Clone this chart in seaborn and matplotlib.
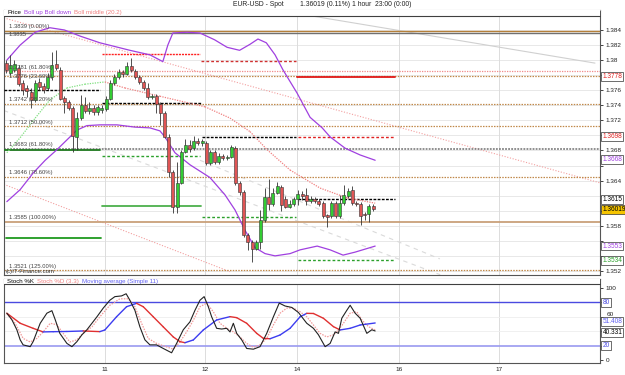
import numpy as np
import matplotlib
matplotlib.use("Agg")
import matplotlib.pyplot as plt
import matplotlib.transforms as mtransforms
import seaborn as sns

# ---------------- data ----------------
# hourly candles EUR-USD, index 0 = first visible candle
opens = [1.3796, 1.3783, 1.3787, 1.3790, 1.3770, 1.3763, 1.3758, 1.3747, 1.3771, 1.3766,
         1.3763, 1.3778, 1.3795, 1.3787, 1.3750, 1.3744, 1.3736, 1.3698, 1.3723, 1.3740,
         1.3732, 1.3736, 1.3731, 1.3734, 1.3735, 1.3748, 1.3770, 1.3778, 1.3784, 1.3782,
         1.3792, 1.3786, 1.3778, 1.3771, 1.3763, 1.3751, 1.3752, 1.3742, 1.3730, 1.3698,
         1.3651, 1.3605, 1.3637, 1.3678, 1.3687, 1.3683, 1.3693, 1.3690, 1.3690, 1.3663,
         1.3678, 1.3665, 1.3673, 1.3670, 1.3671, 1.3683, 1.3637, 1.3625, 1.3568, 1.3558,
         1.3549, 1.3558, 1.3588, 1.3618, 1.3609, 1.3624, 1.3631, 1.3616, 1.3605, 1.3609,
         1.3616, 1.3622, 1.3621, 1.3613, 1.3616, 1.3613, 1.3610, 1.3594, 1.3593, 1.3610,
         1.3593, 1.3610, 1.3620, 1.3627, 1.3610, 1.3609, 1.3596, 1.3596, 1.3606]
highs = [1.3800, 1.3807, 1.3800, 1.3794, 1.3774, 1.3767, 1.3763, 1.3774, 1.3776, 1.3770,
         1.3783, 1.3811, 1.3813, 1.3791, 1.3752, 1.3747, 1.3739, 1.3731, 1.3754, 1.3751,
         1.3744, 1.3740, 1.3740, 1.3740, 1.3752, 1.3774, 1.3782, 1.3788, 1.3787, 1.3798,
         1.3803, 1.3788, 1.3780, 1.3774, 1.3770, 1.3755, 1.3755, 1.3744, 1.3733, 1.3702,
         1.3654, 1.3665, 1.3681, 1.3695, 1.3694, 1.3699, 1.3697, 1.3695, 1.3693, 1.3681,
         1.3681, 1.3677, 1.3675, 1.3674, 1.3687, 1.3686, 1.3639, 1.3627, 1.3570, 1.3561,
         1.3561, 1.3601, 1.3630, 1.3642, 1.3630, 1.3638, 1.3634, 1.3620, 1.3614, 1.3618,
         1.3627, 1.3626, 1.3630, 1.3620, 1.3618, 1.3616, 1.3613, 1.3596, 1.3613, 1.3613,
         1.3621, 1.3634, 1.3630, 1.3633, 1.3613, 1.3612, 1.3598, 1.3609, 1.3609]
lows = [1.3783, 1.3780, 1.3784, 1.3766, 1.3754, 1.3751, 1.3736, 1.3744, 1.3760, 1.3756,
        1.3760, 1.3774, 1.3787, 1.3747, 1.3730, 1.3734, 1.3678, 1.3681, 1.3720, 1.3730,
        1.3728, 1.3727, 1.3727, 1.3730, 1.3732, 1.3747, 1.3767, 1.3775, 1.3778, 1.3780,
        1.3784, 1.3775, 1.3768, 1.3760, 1.3748, 1.3748, 1.3730, 1.3714, 1.3697, 1.3645,
        1.3597, 1.3597, 1.3635, 1.3677, 1.3678, 1.3681, 1.3687, 1.3686, 1.3661, 1.3661,
        1.3662, 1.3662, 1.3667, 1.3667, 1.3670, 1.3634, 1.3621, 1.3565, 1.3548, 1.3532,
        1.3548, 1.3549, 1.3585, 1.3601, 1.3606, 1.3622, 1.3600, 1.3604, 1.3604, 1.3606,
        1.3608, 1.3614, 1.3608, 1.3610, 1.3610, 1.3606, 1.3590, 1.3578, 1.3590, 1.3590,
        1.3590, 1.3608, 1.3617, 1.3608, 1.3606, 1.3581, 1.3588, 1.3585, 1.3600]
closes = [1.3787, 1.3794, 1.3795, 1.3768, 1.3760, 1.3759, 1.3747, 1.3770, 1.3764, 1.3760,
          1.3778, 1.3794, 1.3790, 1.3748, 1.3744, 1.3736, 1.3699, 1.3723, 1.3740, 1.3732,
          1.3736, 1.3731, 1.3738, 1.3736, 1.3748, 1.3770, 1.3778, 1.3784, 1.3782, 1.3792,
          1.3787, 1.3778, 1.3771, 1.3763, 1.3751, 1.3752, 1.3742, 1.3730, 1.3698, 1.3651,
          1.3605, 1.3637, 1.3678, 1.3687, 1.3682, 1.3693, 1.3690, 1.3693, 1.3663, 1.3678,
          1.3665, 1.3673, 1.3670, 1.3671, 1.3685, 1.3637, 1.3625, 1.3568, 1.3558, 1.3549,
          1.3558, 1.3588, 1.3618, 1.3609, 1.3624, 1.3633, 1.3608, 1.3605, 1.3609, 1.3616,
          1.3622, 1.3620, 1.3613, 1.3616, 1.3613, 1.3609, 1.3593, 1.3592, 1.3610, 1.3593,
          1.3610, 1.3621, 1.3626, 1.3610, 1.3609, 1.3593, 1.3594, 1.3606, 1.3602]

# Bollinger bands (20, 2)
up_idx = [0.2, 3.4, 7.0, 10.5, 14.0, 17.7, 22.5, 29.7, 34.5, 37.6, 38.8, 40.0, 43.4, 46.5,
          50.0, 53.0, 56.0, 58.5, 60.4, 62.4, 64.5, 66.4, 69.8, 72.9, 75.8, 77.7, 81.3, 84.9, 88.5]
up_val = [1.3800, 1.3820, 1.3837, 1.3843, 1.3840, 1.3832, 1.3823, 1.3813, 1.3807, 1.3798,
          1.3820, 1.3836, 1.3837, 1.3836, 1.3827, 1.3817, 1.3813, 1.3821, 1.3828, 1.3823,
          1.3807, 1.3787, 1.3756, 1.3724, 1.3710, 1.3698, 1.3683, 1.3674, 1.3667]
lo_idx = [0.2, 3.4, 6.5, 9.4, 12.2, 14.6, 17.0, 19.4, 22.5, 26.6, 30.9, 34.5, 36.9, 38.1, 40.5,
          44.1, 48.9, 52.5, 54.9, 57.3, 59.7, 62.1, 64.5, 68.1, 70.5, 74.6, 77.7, 80.8, 83.7, 88.5]
lo_val = [1.3612, 1.3628, 1.3650, 1.3667, 1.3681, 1.3694, 1.3707, 1.3713, 1.3714, 1.3714,
          1.3711, 1.3710, 1.3706, 1.3698, 1.3677, 1.3661, 1.3644, 1.3621, 1.3601, 1.3574,
          1.3551, 1.3543, 1.3540, 1.3543, 1.3548, 1.3553, 1.3548, 1.3541, 1.3545, 1.3553]
mid_idx = [0.2, 3.4, 7.0, 10.5, 14.6, 18.9, 23.7, 28.5, 36.9, 47.7, 53.7, 58.5, 62.6,
           68.1, 75.3, 81.8, 88.5]
mid_val = [1.3677, 1.3697, 1.3723, 1.3747, 1.3763, 1.3768, 1.3771, 1.3763, 1.3752, 1.3738,
           1.3723, 1.3705, 1.3681, 1.3654, 1.3630, 1.3617, 1.3610]

# full width levels (fibonacci retracement)
fib_prices = [1.3779, 1.3742, 1.3712, 1.3645, 1.3521]
fib_labels = ["1.3776 (23.60%)", "1.3742 (38.20%)", "1.3712 (50.00%)",
              "1.3646 (78.60%)", "1.3521 (125.00%)"]
top_price, top_label = 1.3839, "1.3839 (0.00%)"
top2_price, top2_label = 1.3836, "1.3835"
pink_price, pink_label = 1.3785, "1.3781 (61.80%)"
f618_price, f618_label = 1.3682, "1.3683 (61.80%)"
f100_price, f100_label = 1.3585, "1.3585 (100.00%)"

# short support / resistance segments: price, start index, end index
seg_price = [1.3760, 1.3681, 1.3564, 1.3808, 1.3743, 1.3673, 1.3606,
             1.3799, 1.3698, 1.3592, 1.3778, 1.3698, 1.3615, 1.3534]
seg_start = [-0.4, -0.4, 0.0, 23.0, 23.0, 23.0, 23.0, 46.7, 47.0, 47.0, 69.8, 70.0, 70.0, 70.0]
seg_end = [22.5, 22.5, 22.8, 46.5, 47.0, 46.5, 46.8, 69.5, 69.5, 69.5, 93.3, 93.3, 93.3, 93.3]
seg_color = ["black", "#1f7a1f", "#1f9a1f", "#ff2020", "black", "#2ca02c", "#4cb04c",
             "#d03030", "black", "#2ca02c", "#e01818", "#e02020", "black", "#2ca02c"]
seg_style = [(0, (2, 1)), "-", "-", (0, (1.5, 0.7)), (0, (2, 1)), (0, (2, 1.5)), "-",
             (0, (2, 1.5)), (0, (2, 1)), (0, (2, 1.5)), "-", (0, (2, 1.5)), (0, (2, 1)), (0, (2, 1.5))]

# trend lines: (start index, start price, end index, end price)
trend_pink = [(-0.5, 1.3856, 142.4, 1.3637), (-0.5, 1.3635, 53.7, 1.3519)]
trend_gray = [(72.9, 1.3859, 141.2, 1.3796)]
trend_gray_dash = [(-0.5, 1.3733, 104.1, 1.3515), (46.5, 1.3667, 104.0, 1.3536)]

# price tags on right axis
tag_price = [1.3778, 1.3698, 1.3668, 1.3615, 1.36019, 1.3553, 1.3534]
tag_text = ["1.3778", "1.3698", "1.3668", "1.3615", "1.36019", "1.3553", "1.3534"]
tag_color = ["#e02020", "#e02020", "#a040e0", "black", "black", "#a040e0", "#2ca02c"]

# stochastic
k_idx = [0.2, 1.4, 2.6, 3.4, 4.1, 5.8, 6.5, 8.2, 9.8, 11.0, 11.8, 12.9, 14.6, 15.8, 17.0,
         18.2, 19.4, 20.6, 21.8, 23.3, 24.9, 26.1, 27.7, 28.8, 29.7, 30.9, 32.1, 33.3, 34.5,
         36.1, 37.7, 39.7, 40.9, 42.5, 44.1, 45.3, 46.5, 47.5, 48.5, 49.3, 50.5, 51.7, 52.9,
         53.7, 54.5, 55.3, 56.5, 57.7, 59.3, 60.9, 62.5, 64.1, 65.5, 66.9, 68.5, 70.1, 72.1,
         73.7, 74.9, 76.5, 77.7, 78.9, 79.7, 80.5, 81.7, 82.5, 83.7, 84.9, 86.5, 87.7, 88.5]
k_val = [65, 56, 42, 28, 21, 18.5, 25.5, 51, 65, 68.5, 56, 37, 23, 18.5, 25.5,
         35, 42, 51, 60, 72, 83, 88, 89, 92, 83, 69, 46, 28, 21,
         21, 16, 10, 23, 42, 53, 69, 83, 88, 74, 60, 44, 43, 44,
         39, 51, 37, 28, 16, 15, 18.5, 37, 60, 79, 75, 73, 66, 51,
         44, 35, 18.5, 23, 39, 37, 58, 69, 76, 65, 58, 37, 42, 40.3]
d_idx = [0.2, 2.2, 4.1, 5.8, 7.4, 8.9, 10.6, 12.2, 13.7, 15.3, 17.0, 18.5, 20.6, 22.5, 24.9,
         27.3, 29.3, 30.9, 32.5, 34.1, 36.1, 38.1, 40.1, 41.7, 43.3, 44.9, 46.5, 48.1, 49.7,
         51.3, 52.9, 54.5, 56.1, 57.7, 59.3, 60.9, 62.5, 64.1, 65.7, 67.3, 68.9, 70.5, 72.1,
         73.7, 75.3, 76.9, 78.5, 79.7, 80.9, 82.5, 84.1, 85.3, 86.9, 88.5]
d_val = [64, 51, 30, 25, 30, 39, 51, 49, 37, 25, 28, 37, 46, 60, 76,
         85, 85, 74, 51, 30, 23, 19, 15, 25, 39, 55, 74, 79, 67,
         51, 44, 39, 32, 23, 17.6, 21, 30, 48.6, 65, 72, 72, 67, 60,
         48.6, 37, 32, 35, 41.7, 51, 65, 67, 55.6, 46.3, 41.7]
ma_idx = [0.2, 3.4, 6.5, 8.9, 11.3, 14.6, 18.5, 22.5, 23.7, 26.5, 28.9, 31.3, 32.9, 35.3,
          37.7, 40.1, 41.7, 42.9, 44.9, 47.3, 50.5, 53.7, 55.3, 57.7, 60.1, 61.7, 63.3, 65.7,
          68.1, 70.5, 72.1, 73.7, 76.1, 78.5, 80.1, 82.5, 84.9, 88.5]
ma_val = [65, 51, 44, 39.0, 39.3, 39.6, 40.3, 39.4, 41.7, 60, 74, 78.7, 74, 60,
          46, 32, 25.5, 24, 27.8, 41.7, 55.6, 60.2, 58.8, 51, 37, 30, 29.5, 34.7,
          44, 60, 64.8, 64.6, 57.9, 46.3, 41.7, 44, 48.6, 51.4]

day_pos = [23.7, 47.7, 69.8, 94.2, 118.2]
day_labels = ["11", "12", "14", "16", "17"]

# ---------------- styling ----------------
sns.set_theme(style="white", context="paper")
plt.rcParams["font.family"] = ["Liberation Sans", "DejaVu Sans"]

BROWN = "#c0894a"
PURPLE = "#a040e0"
SALMON = "#f08080"
LGREEN = "#80e080"
FS = 4.6      # axis labels
FS_TAG = 4.7  # boxed value tags
FS_LEG = 4.4  # header legends

W, H = 625, 375
fig = plt.figure(figsize=(W / 100, H / 100), dpi=100)
fig.patch.set_facecolor("white")


def frac_box(x0, y0, x1, y1):
    return [x0 / W, 1 - y1 / H, (x1 - x0) / W, (y1 - y0) / H]


ax = fig.add_axes(frac_box(4, 9.5, 600, 275))
ax2 = fig.add_axes(frac_box(4, 279, 600, 362.5))

XLIM = (-0.48, 142.4)

# ---------------- price panel ----------------
ax.set_xlim(*XLIM)
ax.set_ylim(1.35146, 1.38672)
ticks = np.round(np.arange(1.352, 1.3845, 0.002), 3)
for t in ticks:
    ax.axhline(t, color="#e4e4e4", lw=0.6, zorder=0)
for d in day_pos:
    ax.axvline(d, color="#dcdcdc", lw=0.7, zorder=0)

# trend lines
for x0, p0, x1, p1 in trend_pink:
    ax.plot([x0, x1], [p0, p1], color="#f3a0a0", lw=0.8, ls=(0, (1, 1.5)), zorder=1)
for x0, p0, x1, p1 in trend_gray:
    ax.plot([x0, x1], [p0, p1], color="#d0d0d0", lw=0.8, zorder=1)
for x0, p0, x1, p1 in trend_gray_dash:
    ax.plot([x0, x1], [p0, p1], color="#dadada", lw=0.8, ls=(0, (4, 4)), zorder=1)

# full width levels
ax.axhline(top_price, color="#b5803a", lw=1.0, zorder=2)
ax.axhline(top2_price, color="#707070", lw=1.0, zorder=2)
ax.axhline(pink_price, color="#f08a8a", lw=0.9, ls=(0, (1, 1)), zorder=2)
for p in fib_prices:
    ax.axhline(p, color=BROWN, lw=0.9, ls=(0, (1.2, 1)), zorder=2)
ax.axhline(f618_price, color="#707070", lw=1.1, ls=(0, (1.2, 0.8)), zorder=2)
ax.axhline(f100_price, color="#c9a07a", lw=1.3, zorder=2)

for p, a, b, c, s in zip(seg_price, seg_start, seg_end, seg_color, seg_style):
    lw = 1.3 if s == "-" else 1.0
    ax.plot([a, b], [p, p], color=c, lw=lw, ls=s, zorder=3)

# bollinger bands
sns.lineplot(x=up_idx, y=up_val, ax=ax, color=PURPLE, lw=0.9, zorder=4)
sns.lineplot(x=lo_idx, y=lo_val, ax=ax, color=PURPLE, lw=0.9, zorder=4)
for k in range(len(mid_idx) - 1):
    col = LGREEN if mid_val[k + 1] >= mid_val[k] else SALMON
    ax.plot(mid_idx[k:k + 2], mid_val[k:k + 2], color=col, lw=0.9,
            ls=(0, (1, 1)), zorder=4)

# candles
xs = np.arange(len(opens))
o = np.array(opens)
c = np.array(closes)
up = c >= o
body_lo = np.minimum(o, c)
body_h = np.maximum(np.abs(c - o), 0.00006)
ax.vlines(xs, lows, highs, color="#333333", lw=0.6, zorder=5)
ax.bar(xs, body_h, bottom=body_lo, width=0.72,
       color=np.where(up, "#33cc33", "#e05555"), edgecolor="#333333",
       linewidth=0.4, zorder=6)

# fib labels at left (offset in points from their line)
lab_prices = [top_price, top2_price, pink_price, fib_prices[0], fib_prices[1], fib_prices[2],
              f618_price, fib_prices[3], f100_price, fib_prices[4]]
lab_texts = [top_label, top2_label, pink_label, fib_labels[0], fib_labels[1], fib_labels[2],
             f618_label, fib_labels[3], f100_label, fib_labels[4]]
lab_dy = [3.0, -1.2, 3.0, -0.6, 3.0, 3.0, 3.0, 3.0, 3.0, 3.0]
for p, t, dy in zip(lab_prices, lab_texts, lab_dy):
    ax.annotate(t, (0.6, p), xytext=(0, dy), textcoords="offset points",
                fontsize=4.2, color="#444444", ha="left", va="center", zorder=7)
ax.text(0.003, 0.004, "(c)IT-Finance.com", transform=ax.transAxes, fontsize=4.4,
        color="#333333", va="bottom", ha="left", zorder=8)

# axis styling: labels hidden below the value tags are left blank
ax.yaxis.tick_right()
ax.set_yticks(ticks)
ylabs = []
for t in ticks:
    hidden = any(abs(t - tp) < 0.0011 for tp in tag_price)
    ylabs.append("" if hidden else f"{t:.3f}".rstrip("0"))
ax.set_yticklabels(ylabs, fontsize=FS)
ax.set_xticks(day_pos)
ax.tick_params(axis="x", length=0, labelbottom=False)
ax.tick_params(axis="y", direction="out", length=2.5, width=0.6, pad=1.5,
               colors="#222222")
for side, sp in ax.spines.items():
    sp.set_color("#555555")
    sp.set_linewidth(0.8)
ax.spines["top"].set_color("#aaaaaa")
ax.set_xlabel("")
ax.set_ylabel("")

fig.canvas.draw()
renderer = fig.canvas.get_renderer()


def header(axis, ty, items, x0_px):
    """Write legend entries one after another in the panel header."""
    x = (x0_px - 4) / 596
    for txt, col in items:
        t = axis.text(x, ty, txt, transform=axis.transAxes, fontsize=FS_LEG, color=col,
                      va="center", ha="left", zorder=10)
        bb = t.get_window_extent(renderer=renderer)
        x = axis.transAxes.inverted().transform((bb.x1 + 3, 0))[0]


# header strip
hfrac = (275 - 16) / (275 - 9.5)
ax.plot([0, 1], [hfrac, hfrac], transform=ax.transAxes, color="#404040", lw=0.8,
        clip_on=False, zorder=9)
ax.add_patch(plt.Rectangle((0, hfrac), 1, 1 - hfrac, transform=ax.transAxes,
                           facecolor="white", edgecolor="none", zorder=8))
header(ax, (275 - 12.7) / (275 - 9.5),
       [("Price", "black"), ("Boll up Boll down", PURPLE), ("Boll middle (20.2)", SALMON)], 7)

trans = mtransforms.blended_transform_factory(ax.transAxes, ax.transData)
for p, t, col in zip(tag_price, tag_text, tag_color):
    fc = "#f5c400" if t == "1.36019" else "white"
    ax.text(1.004, p, t, transform=trans, fontsize=FS_TAG, color=col, va="center",
            ha="left", zorder=10, clip_on=False,
            bbox=dict(boxstyle="square,pad=0.14", fc=fc, ec="#333333", lw=0.5))

# ---------------- stochastic panel ----------------
ax2.set_xlim(*XLIM)
ax2.set_ylim(-3.5, 112.5)
for d in day_pos:
    ax2.axvline(d, color="#dcdcdc", lw=0.7, zorder=0)
for lv in [40, 60]:
    ax2.axhline(lv, color="#eeeeee", lw=0.6, zorder=0)
ax2.axhline(80, color="#4a4ae0", lw=1.0, zorder=1)
ax2.axhline(20, color="#9a9af0", lw=1.2, zorder=1)

sns.lineplot(x=d_idx, y=d_val, ax=ax2, color="#f29a9a", lw=0.9, ls=(0, (1.2, 1)), zorder=3)
for k in range(len(ma_idx) - 1):
    col = "#3c3cf0" if ma_val[k + 1] >= ma_val[k] else "#e03030"
    ax2.plot(ma_idx[k:k + 2], ma_val[k:k + 2], color=col, lw=1.0, zorder=3,
             solid_capstyle="round")
sns.lineplot(x=k_idx, y=k_val, ax=ax2, color="#222222", lw=0.8, zorder=4)

ax2.yaxis.tick_right()
ax2.set_yticks([0, 20, 40, 60, 80, 100])
ax2.set_yticklabels(["0", "", "", "", "", "100"], fontsize=FS)
ax2.set_xticks(day_pos)
ax2.set_xticklabels(day_labels, fontsize=FS)
ax2.tick_params(axis="x", direction="out", length=2, width=0.6, pad=1.5, colors="#222222")
ax2.tick_params(axis="y", direction="out", length=2.5, width=0.6, pad=1.5, colors="#222222")
for side, sp in ax2.spines.items():
    sp.set_color("#555555")
    sp.set_linewidth(0.8)
ax2.set_xlabel("")
ax2.set_ylabel("")

hfrac2 = (362.5 - 284) / (362.5 - 279)
ax2.add_patch(plt.Rectangle((0, hfrac2), 1, 1 - hfrac2, transform=ax2.transAxes,
                            facecolor="white", edgecolor="none", zorder=8))
ax2.plot([0, 1], [hfrac2, hfrac2], transform=ax2.transAxes, color="#404040", lw=0.8,
         clip_on=False, zorder=9)
header(ax2, (362.5 - 281.7) / (362.5 - 279),
       [("Stoch %K", "black"), ("Stoch %D (3.3)", SALMON),
        ("Moving average (Simple 11)", "#6060f0")], 7)

trans2 = mtransforms.blended_transform_factory(ax2.transAxes, ax2.transData)
# "60" sits just above the moving-average tag, as in the source
ax2.annotate("60", (1.0, 60), xycoords=trans2, xytext=(4.5, 1.8), textcoords="offset points",
             fontsize=FS, color="#222222", va="center", ha="left", annotation_clip=False)
for v, t, col, dy in [(80, "80", "#4a4ae0", 0), (20, "20", "#4a4ae0", 0),
                      (51.408, "51.408", "#6060f0", 1.0), (40.331, "40.331", "black", -1.3)]:
    ax2.annotate(t, (1.004, v), xycoords=trans2, xytext=(0, dy), textcoords="offset points",
                 fontsize=FS_TAG, color=col, va="center", ha="left", zorder=10,
                 annotation_clip=False,
                 bbox=dict(boxstyle="square,pad=0.14", fc="white", ec="#333333", lw=0.5))

# title line
for px, txt in [(233, "EUR-USD - Spot"), (300, "1.36019 (0.11%)"), (352, "1 hour  23:00 (0:00)")]:
    fig.text(px / W, 1 - 4.5 / H, txt, ha="left", va="center", fontsize=4.9, color="#222222")

fig.savefig("out.png", dpi=100, facecolor="white")
